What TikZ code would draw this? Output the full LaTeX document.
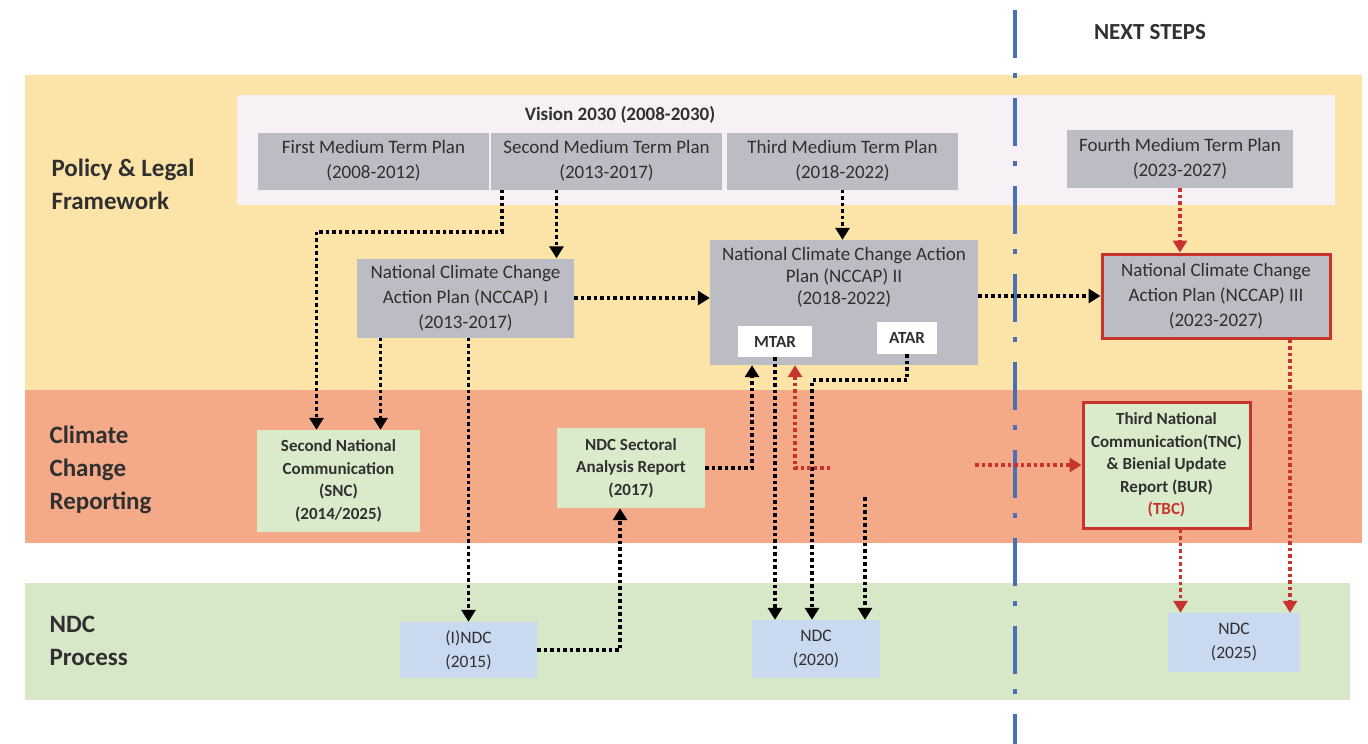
\documentclass[tikz,border=0pt]{standalone}
\usepackage{fontspec}
\setmainfont{Carlito}
\usepackage{tikz}
\usetikzlibrary{arrows.meta, positioning, calc}
\usepackage{xcolor}
\definecolor{bandyellow}{HTML}{FCE3A7}
\definecolor{bandorange}{HTML}{F4AA88}
\definecolor{bandgreen}{HTML}{D7E8C9}
\definecolor{visionbg}{HTML}{F7F1F5}
\definecolor{boxgray}{HTML}{BCBCC4}
\definecolor{boxgreen}{HTML}{DAEBCB}
\definecolor{boxblue}{HTML}{C9D9EF}
\definecolor{redaccent}{HTML}{C7332D}
\definecolor{sepblue}{HTML}{4A6FB5}
\definecolor{textgray}{HTML}{303030}

\tikzset{
  planbox/.style={fill=boxgray, text=textgray, align=center, inner sep=2pt, font=\fontsize{19}{25}\selectfont},
  reportbox/.style={fill=boxgreen, text=textgray, align=center, inner sep=2pt, font=\bfseries\fontsize{17}{22.5}\selectfont},
  ndcbox/.style={fill=boxblue, text=textgray, align=center, inner sep=2pt, font=\fontsize{17.5}{24}\selectfont},
  tagbox/.style={fill=white, text=textgray, align=center, inner sep=2pt, font=\bfseries\fontsize{17}{20}\selectfont},
  nextbox/.style={draw=redaccent, line width=3pt},
  bandlabel/.style={anchor=west, align=left, text=textgray, font=\bfseries\fontsize{25}{33}\selectfont},
  flow/.style={line width=3.8pt, dash pattern=on 3.5pt off 3pt, -{Triangle[width=14pt,length=12pt]}},
  redflow/.style={flow, draw=redaccent, -{Triangle[width=14pt,length=12pt,fill=redaccent]}},
  sepline/.style={draw=sepblue, line width=4pt, dash pattern=on 48pt off 15pt on 5pt off 20pt}
}

\begin{document}
\begin{tikzpicture}[x=1pt, y=-1pt]
  \useasboundingbox[fill=white] (0,0) rectangle (1368,744);

  % bands
  \fill[bandyellow] (25,75) rectangle (1362,390);
  \fill[bandorange] (25,390) rectangle (1362,543);
  \fill[bandgreen] (25,583) rectangle (1350,700);
  \fill[visionbg] (237,95) rectangle (1335,205);

  \node[bandlabel] (policylbl) at (48,184) {Policy \& Legal\\Framework};
  \node[bandlabel] (reportlbl) at (46,470) {Climate\\Change\\Reporting};
  \node[bandlabel] (ndclbl) at (46,641) {NDC\\Process};

  \draw[sepline] (1015,10) -- (1015,744);
  \node[text=textgray, font=\bfseries\fontsize{23}{26}\selectfont] (nextlbl) at (1150,32) {NEXT STEPS};

  % policy boxes
  \node[text=textgray, font=\bfseries\fontsize{19}{22}\selectfont] (vision) at (620,115) {Vision 2030 (2008-2030)};
  \node[planbox, minimum width=231pt, minimum height=57pt] (fmtp) at (373.5,161) {First Medium Term Plan\\(2008-2012)};
  \node[planbox, minimum width=231pt, minimum height=57pt] (smtp) at (606.5,161) {Second Medium Term Plan\\(2013-2017)};
  \node[planbox, minimum width=231pt, minimum height=57pt] (tmtp) at (842.5,161) {Third Medium Term Plan\\(2018-2022)};
  \node[planbox, minimum width=226pt, minimum height=58pt] (fourthmtp) at (1180,159) {Fourth Medium Term Plan\\(2023-2027)};

  \node[planbox, minimum width=217pt, minimum height=79pt] (nccap1) at (465.5,298) {National Climate Change\\Action Plan (NCCAP) I\\(2013-2017)};
  \node[planbox, minimum width=268pt, minimum height=125pt] (nccap2) at (844,302.5) {};
  \node[planbox, fill=none, anchor=north, font=\fontsize{19}{22}\selectfont] (nccap2txt) at ([yshift=-5pt]nccap2.north) {National Climate Change Action\\Plan (NCCAP) II\\(2018-2022)};
  \node[tagbox, minimum width=74pt, minimum height=31pt] (mtar) at (775,341.5) {MTAR};
  \node[tagbox, minimum width=60pt, minimum height=32pt] (atar) at (907,338) {ATAR};
  \node[planbox, nextbox, minimum width=228pt, minimum height=84pt] (nccap3) at (1216,296) {National Climate Change\\Action Plan (NCCAP) III\\(2023-2027)};

  % reporting boxes
  \node[reportbox, minimum width=163pt, minimum height=102pt] (snc) at (338.5,481) {Second National\\Communication\\(SNC)\\(2014/2025)};
  \node[reportbox, minimum width=148pt, minimum height=80pt] (sectoral) at (631,468) {NDC Sectoral\\Analysis Report\\(2017)};
  \node[reportbox, nextbox, minimum width=167pt, minimum height=126pt] (tnc) at (1166.5,465) {Third National\\Communication(TNC)\\\& Bienial Update\\Report (BUR)\\\textcolor{redaccent}{(TBC)}};

  % ndc boxes
  \node[ndcbox, minimum width=137pt, minimum height=56pt] (indc) at (468.5,650) {(I)NDC\\(2015)};
  \node[ndcbox, minimum width=128pt, minimum height=58pt] (ndc20) at (816,649) {NDC\\(2020)};
  \node[ndcbox, minimum width=132pt, minimum height=59pt] (ndc25) at (1234,642.5) {NDC\\(2025)};

  % turning points
  \coordinate (sncin) at ([xshift=-85pt]nccap1.south);
  \coordinate (sndin) at ([xshift=-50pt]smtp.south);
  \coordinate (secup) at ([xshift=-92pt]nccap2.south);
  \coordinate (redup) at ([xshift=20pt]mtar.south);
  \coordinate (redstub) at (830,468);
  \coordinate (loosetop) at (865,497);
  \coordinate (redtail) at (975,465);
  \coordinate (n3down) at ([xshift=74pt]nccap3.south);
  \coordinate (tncdown) at ([xshift=14pt]tnc.south);

  % connectors
  \draw[flow] ([xshift=11pt]smtp.south west) -- ++(0,42) -| ([xshift=-22pt]snc.north);
  \draw[flow] (sndin) -- (sndin |- nccap1.north);
  \draw[flow] (nccap1.east) -- (nccap1.east -| nccap2.west);
  \draw[flow] (sncin) -- (sncin |- snc.north);
  \draw[flow] (nccap1.south -| indc.north) -- (indc.north);
  \draw[flow] (indc.east) -| ([xshift=-11pt]sectoral.south);
  \draw[flow] (sectoral.east) -| (secup);
  \draw[flow] (mtar.south) -- (mtar.south |- ndc20.north);
  \draw[flow] (atar.south) -- ++(0,26) -| ([xshift=-4pt]ndc20.north);
  \draw[flow] (loosetop) -- (loosetop |- ndc20.north);
  \draw[flow] (tmtp.south) -- (tmtp.south |- nccap2.north);
  \draw[flow] (nccap3.west -| nccap2.east) -- (nccap3.west);
  \draw[redflow] (redstub) -| (redup |- nccap2.south);
  \draw[redflow] (redtail) -- (redtail -| tnc.west);
  \draw[redflow] (fourthmtp.south) -- (fourthmtp.south |- nccap3.north);
  \draw[redflow] (n3down) -- (n3down |- ndc25.north);
  \draw[redflow] (tncdown) -- (tncdown |- ndc25.north);
\end{tikzpicture}
\end{document}
